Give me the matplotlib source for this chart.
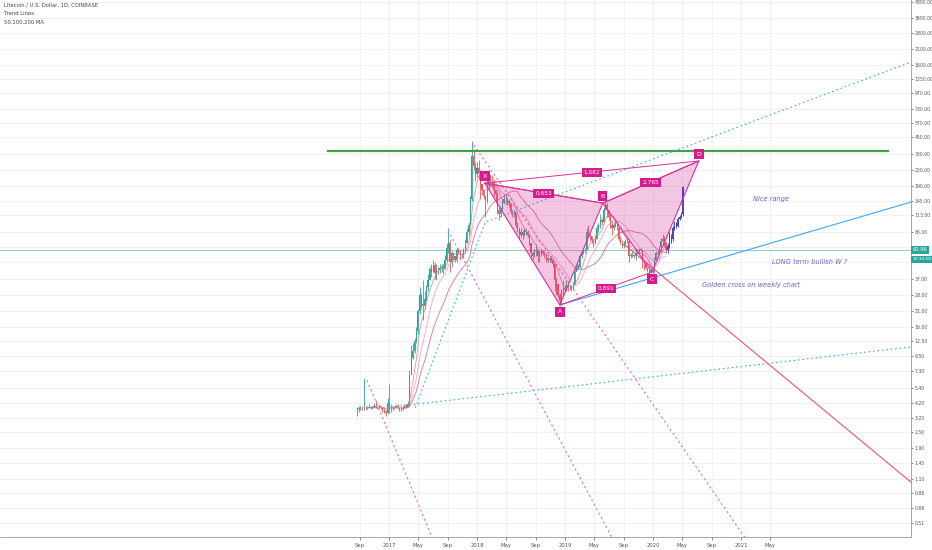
import matplotlib
matplotlib.use('Agg')
import matplotlib.pyplot as plt
import matplotlib.dates as mdates
import numpy as np
import pandas as pd

# ---------------- data ----------------
legend_lines = ["Litecoin / U.S. Dollar, 1D, COINBASE", "Trend Lines", "50,100,200 MA"]

week_start = '2016-08-22'
# weekly candles (close / high / low), Monday-start weeks
close = [
    # 2016 Aug-Dec
    3.75, 3.80, 3.85, 3.80, 3.85, 3.80, 3.85, 3.90, 3.85, 3.85, 3.95,
    3.90, 3.85, 3.95, 3.85, 3.70, 3.60, 3.50, 4.20,
    # 2017
    3.90, 3.80, 3.85, 3.85, 4.00, 3.80, 3.75, 3.75, 3.85, 3.95, 3.90, 4.10, 6.80,
    9.2, 10.5, 12.5, 14.8, 21, 28, 24, 23, 26, 32, 36, 44, 42,
    47, 41, 44, 43, 45, 45, 44, 52, 64, 70, 50, 58, 55,
    52, 62, 60, 55, 55, 62, 70, 85, 95, 150, 320, 270, 235,
    # 2018
    260, 240, 195, 175, 160, 145, 190, 230, 205, 200, 175, 165, 125,
    115, 125, 140, 150, 150, 145, 140, 120, 115, 120, 95, 90, 80,
    85, 80, 85, 85, 80, 70, 58, 55, 60, 62, 55, 57, 60,
    58, 56, 53, 52, 52, 52, 48, 36, 34, 28, 25, 30, 31, 31,
    # 2019
    33, 32, 32, 31, 33, 42, 46, 46, 55, 58, 60, 62,
    85, 80, 78, 73, 70, 75, 90, 95, 105, 100, 125, 135, 125,
    110, 95, 90, 95, 100, 90, 75, 70, 67, 68, 72, 72, 55, 56,
    56, 55, 58, 60, 62, 62, 50, 48, 45, 43, 42, 42, 42,
    # 2020
    52, 58, 57, 65, 72, 75, 70, 61,
]
high = [
    3.9, 4.0, 4.0, 3.95, 6.5, 4.0, 4.0, 4.1, 4.0, 4.0, 4.2,
    4.4, 4.0, 4.1, 4.0, 3.9, 3.8, 3.7, 4.6,
    5.8, 4.1, 4.0, 4.0, 4.1, 4.1, 3.9, 3.9, 4.0, 4.1, 4.1, 4.3, 7.5,
    11.5, 12, 13, 16, 22, 32, 29, 36, 30, 33, 40, 46, 48,
    52, 50, 48, 46, 48, 48, 48, 56, 70, 90, 73, 60, 57,
    55, 64, 64, 62, 58, 64, 74, 90, 100, 160, 420, 365, 290,
    290, 300, 250, 195, 180, 160, 230, 250, 230, 230, 210, 180, 170,
    130, 130, 150, 165, 165, 155, 150, 140, 125, 125, 120, 100, 90,
    90, 88, 90, 90, 88, 80, 70, 60, 63, 68, 63, 60, 64,
    62, 60, 58, 54, 54, 55, 53, 50, 38, 34, 29, 31, 36, 33,
    36, 34, 33, 33, 35, 45, 49, 48, 57, 60, 62, 64,
    90, 95, 82, 79, 75, 80, 96, 98, 115, 108, 130, 145, 140,
    125, 115, 105, 98, 102, 100, 92, 78, 73, 72, 75, 78, 74, 58,
    60, 57, 64, 63, 64, 64, 61, 50, 48, 45, 44, 45, 44,
    54, 60, 61, 66, 76, 82, 79, 72,
]
low = [
    3.3, 3.6, 3.7, 3.7, 3.7, 3.7, 3.75, 3.8, 3.75, 3.75, 3.8,
    3.8, 3.75, 3.8, 3.75, 3.6, 3.5, 3.3, 3.45,
    3.5, 3.6, 3.7, 3.75, 3.8, 3.75, 3.65, 3.65, 3.7, 3.8, 3.8, 3.9, 4.0,
    7.0, 9.0, 10, 12, 14, 20, 22, 18, 22, 25, 30, 36, 38,
    42, 37, 36, 40, 41, 42, 40, 44, 50, 58, 42, 46, 52,
    50, 50, 57, 52, 53, 53, 58, 70, 80, 95, 145, 250, 205,
    220, 210, 150, 165, 150, 110, 140, 180, 190, 185, 160, 140, 115,
    105, 110, 125, 140, 140, 135, 130, 115, 110, 110, 90, 85, 75,
    77, 75, 78, 80, 77, 67, 52, 52, 54, 55, 50, 50, 55,
    56, 53, 50, 50, 50, 50, 46, 30, 28, 27, 23, 24, 28, 30,
    30, 30, 31, 30, 31, 34, 43, 44, 45, 53, 57, 58,
    61, 77, 72, 70, 65, 68, 74, 85, 90, 95, 100, 125, 110,
    105, 90, 80, 88, 92, 88, 72, 68, 64, 64, 66, 70, 50, 53,
    54, 53, 52, 57, 58, 60, 45, 43, 44, 42, 39, 41, 41,
    41, 52, 53, 57, 62, 68, 65, 58,
]

# projected (drawn) bars pattern
proj_start = '2020-03-02'
proj_close = [66, 80, 74, 90, 98, 94, 106, 110, 115, 185]
proj_high = [70, 84, 82, 93, 102, 100, 110, 114, 120, 190]
proj_low = [58, 64, 70, 72, 88, 90, 92, 104, 108, 112]

ma_labels = ['50', '100', '200']
ma_windows_weeks = [7, 14, 28]

# XABCD pattern
pattern_names = ['X', 'A', 'B', 'C', 'D']
pattern_dates = ['2018-02-03', '2018-12-11', '2019-06-07', '2019-12-28', '2020-07-09']
pattern_prices = [199, 23.4, 140, 41.7, 294]
ratio_pairs = [('X', 'B'), ('X', 'D'), ('A', 'C'), ('B', 'D')]
ratio_labels = ['0.653', '1.682', '0.891', '2.765']

# horizontal resistance
resistance_dates = ['2016-04-23', '2022-09-02']
resistance_price = [350, 350]

# trend lines (date, price)
blue_dotted_1 = (['2016-12-07', '2022-12-06'], [3.83, 11.2])
blue_dotted_2 = (['2017-04-20', '2018-02-05', '2022-12-06'], [3.85, 100.5, 1672])
blue_solid = (['2018-12-11', '2022-12-06'], [23.4, 142.8])
red_solid = (['2019-09-07', '2022-12-06'], [67, 1.04])
pink_dashed = [
    (['2016-10-02', '2017-07-31'], [6.25, 0.283]),
    (['2017-09-03', '2019-08-25'], [87, 0.283]),
    (['2017-12-19', '2021-03-11'], [389, 0.283]),
]

last_price = 60.96
countdown = '19:30:58'

notes = ['Nice range', 'LONG term bullish W ?', 'Golden cross on weekly chart']
note_dates = ['2021-05-04', '2021-10-13', '2021-02-11']
note_prices = [150.5, 49.7, 33.2]

y_ticks = [0.51, 0.66, 0.86, 1.10, 1.45, 1.90, 2.50, 3.20, 4.20, 5.40, 7.30, 9.50,
           12.50, 16.00, 21.00, 28.00, 37.00, 50.00, 65.00, 85.00, 113.00, 145.00,
           190.00, 250.00, 330.00, 450.00, 570.00, 730.00, 970.00, 1250.00, 1600.00,
           2100.00, 2800.00, 3600.00, 4800.00]
hidden_tick_labels = [50.00, 65.00]   # covered by the price labels
x_tick_dates = ['2016-09-01', '2017-01-01', '2017-05-01', '2017-09-01', '2018-01-01',
                '2018-05-01', '2018-09-01', '2019-01-01', '2019-05-01', '2019-09-01',
                '2020-01-01', '2020-05-01', '2020-09-01', '2021-01-01', '2021-05-01']
x_limits = ['2012-08-02', '2022-12-06']
y_limits = [0.397, 4972]

# ---------------- figure ----------------
plt.rcParams['font.family'] = ['DejaVu Sans']
fig = plt.figure(figsize=(9.32, 5.5), dpi=100)
ax = fig.add_axes([0, 13 / 550, 911 / 932, 537 / 550])
ax.set_yscale('log')

def D(s):
    return mdates.date2num(pd.Timestamp(s))

# grid
for v in y_ticks:
    ax.axhline(v, color='#eef0f5', lw=0.7, zorder=0)
for d in x_tick_dates:
    ax.axvline(D(d), color='#f2f3f7', lw=0.7, zorder=0)

# candles
dates = mdates.date2num(pd.date_range(week_start, periods=len(close), freq='7D'))
opens = [close[0] * 0.98] + close[:-1]
green, red = '#26a69a', '#ef5350'
cols = [green if c >= o else red for o, c in zip(opens, close)]
ax.vlines(dates, low, high, colors=cols, lw=0.6, zorder=3)
bottoms = np.minimum(opens, close)
heights = np.abs(np.array(close) - np.array(opens))
heights = np.maximum(heights, bottoms * 0.01)
ax.bar(dates, heights, bottom=bottoms, width=4.5, color=cols, lw=0, zorder=3)

# moving averages
s = pd.Series(close, index=dates)
for w, c in zip(ma_windows_weeks, ['#e57373', '#f48fb1', '#d0507a']):
    ma = s.rolling(w).mean()
    ax.plot(dates, ma.values, color=c, lw=0.6, alpha=0.8, zorder=4)

# projected bars
pdates = mdates.date2num(pd.date_range(proj_start, periods=len(proj_close), freq='7D'))
popen = [close[-1]] + proj_close[:-1]
pc = '#4b3fd1'
ax.vlines(pdates, proj_low, proj_high, colors=pc, lw=0.7, zorder=5)
pb = np.minimum(popen, proj_close)
ph = np.maximum(np.abs(np.array(proj_close) - np.array(popen)), pb * 0.01)
ax.bar(pdates, ph, bottom=pb, width=4.5, color=pc, lw=0, zorder=5)

# resistance
ax.plot([D(d) for d in resistance_dates], resistance_price, color='#43a047', lw=1.6, zorder=6)

# last price line
ax.axhline(last_price, color='#26a69a', lw=0.6, alpha=0.6, zorder=2)

# trend lines
def tl(line, **kw):
    ax.plot([D(d) for d in line[0]], line[1], **kw)

tl(blue_dotted_1, color='#42a5f5', lw=0.8, ls=(0, (1.5, 2.5)), zorder=4)
tl(blue_dotted_2, color='#42a5f5', lw=0.8, ls=(0, (1.5, 2.5)), zorder=4)
tl(blue_solid, color='#42a5f5', lw=0.8, zorder=4)
tl(red_solid, color='#ef5370', lw=0.8, zorder=4)
for ln in pink_dashed:
    tl(ln, color='#e57391', lw=0.8, ls=(0, (2, 2.5)), zorder=4)

# XABCD pattern
pmag = '#d6309a'
pts = {n: (D(d), p) for n, d, p in zip(pattern_names, pattern_dates, pattern_prices)}
for tri in [('X', 'A', 'B'), ('B', 'C', 'D')]:
    xs = [pts[n][0] for n in tri]
    ys = [pts[n][1] for n in tri]
    ax.fill(xs, ys, color=pmag, alpha=0.27, lw=0, zorder=4.5)
    ax.plot(xs + [xs[0]], ys + [ys[0]], color=pmag, lw=0.8, zorder=6)
for (a, b), lab in zip(ratio_pairs, ratio_labels):
    ax.plot([pts[a][0], pts[b][0]], [pts[a][1], pts[b][1]], color=pmag, lw=0.7, zorder=6)
    mx = (pts[a][0] + pts[b][0]) / 2
    my = np.sqrt(pts[a][1] * pts[b][1])
    ax.text(mx, my, lab, color='white', fontsize=4.2, ha='center', va='center', zorder=8,
            bbox=dict(boxstyle='square,pad=0.35', fc='#d81b8c', ec='none'))
for n in pattern_names:
    up = n in ('X', 'B', 'D')
    ax.annotate(n, pts[n], xytext=(0, 5 if up else -5), textcoords='offset points',
                ha='center', va='center', color='white', fontsize=4.5, zorder=8,
                bbox=dict(boxstyle='square,pad=0.4', fc='#d81b8c', ec='none'))

# notes
for t, d, p in zip(notes, note_dates, note_prices):
    ax.text(D(d), p, t, fontsize=4.8, style='italic', color='#6f5fc8', ha='center', va='center', zorder=7)

# axes format
ax.set_xlim(D(x_limits[0]), D(x_limits[1]))
ax.set_ylim(*y_limits)
ax.yaxis.tick_right()
ax.set_yticks(y_ticks)
ax.set_yticklabels(['' if v in hidden_tick_labels else '%.2f' % v for v in y_ticks])
ax.yaxis.set_minor_locator(matplotlib.ticker.NullLocator())
ax.tick_params(axis='y', labelsize=3.3, colors='#555555', length=1.5, width=0.5, pad=1)
ax.set_xticks([D(d) for d in x_tick_dates])
ax.set_xticklabels([str(pd.Timestamp(d).year) if pd.Timestamp(d).month == 1 else pd.Timestamp(d).strftime('%b')
                    for d in x_tick_dates])
ax.tick_params(axis='x', labelsize=3.8, colors='#555555', length=2, width=0.5, pad=2)
for sp in ['top', 'left']:
    ax.spines[sp].set_visible(False)
for sp in ['right', 'bottom']:
    ax.spines[sp].set_color('#9598a1')
    ax.spines[sp].set_linewidth(0.6)

# price labels
ax.annotate('%.2f' % last_price, xy=(1, last_price), xycoords=('axes fraction', 'data'),
            xytext=(1.2, 0.5), textcoords='offset points', fontsize=3.6, color='white', va='center',
            ha='left', annotation_clip=False, zorder=10,
            bbox=dict(boxstyle='square,pad=0.3', fc='#26a69a', ec='none'))
ax.annotate(countdown, xy=(1, last_price), xycoords=('axes fraction', 'data'),
            xytext=(1.2, -6.3), textcoords='offset points', fontsize=3.1, color='white', va='center',
            ha='left', annotation_clip=False, zorder=10,
            bbox=dict(boxstyle='square,pad=0.3', fc='#26a69a', ec='none'))

# legend text
for i, t in enumerate(legend_lines):
    fig.text(4 / 932, 1 - (5 + 8.5 * i) / 550, t, fontsize=3.8, color='#444444', va='center', ha='left')

fig.savefig('out.png', dpi=100)
